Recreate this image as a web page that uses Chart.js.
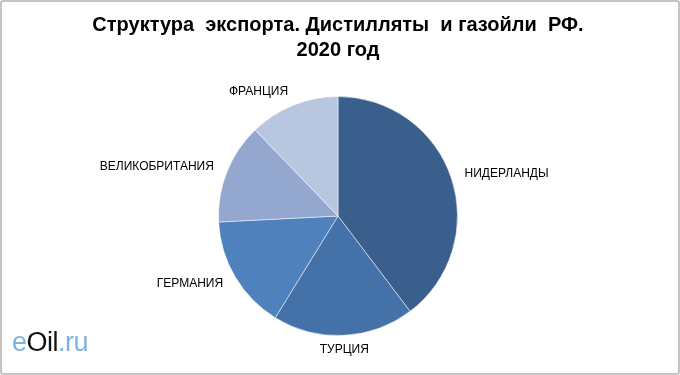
<!DOCTYPE html>
<html lang="ru">
<head>
<meta charset="UTF-8">
<title>Структура экспорта. Дистилляты и газойли РФ. 2020 год</title>
<style>
    html, body { margin: 0; padding: 0; background: #fff; }
    .frame {
        position: relative;
        width: 680px; height: 375px;
        box-sizing: border-box;
        border: 2px solid #c4c4c4;
        border-radius: 3px;
        overflow: hidden;
    }
    .chart-box { position: absolute; left: -2px; top: -2px; width: 680px; height: 375px; }
    .logo {
        position: absolute; left: 10px; top: 325px;
        font-family: "Liberation Sans", Arial, sans-serif;
        font-size: 27px; letter-spacing: -0.5px;
        color: #111;
    }
    .logo .lt { color: #7fb3de; }
</style>
</head>
<body>
<div class="frame">
    <div class="chart-box"><canvas id="exportChart" width="680" height="375"></canvas></div>
    <div class="logo"><span class="lt">e</span>Oil<span class="lt">.ru</span></div>
</div>

<script src="https://cdn.jsdelivr.net/npm/chart.js"></script>
<script>
    // data (share of export, %)
    const countries = ['НИДЕРЛАНДЫ', 'ТУРЦИЯ', 'ГЕРМАНИЯ', 'ВЕЛИКОБРИТАНИЯ', 'ФРАНЦИЯ'];
    const shares = [39.7, 19.1, 15.4, 13.6, 12.2];
    const sliceColors = ['#3B5F8C', '#4472A8', '#4F81BD', '#94A7CF', '#B9C6DF'];
    const titleLines = ['Структура  экспорта. Дистилляты  и газойли  РФ.', '2020 год'];

    // category names drawn outside the pie, around each slice's middle
    const outsideLabels = {
        id: 'outsideLabels',
        afterDatasetsDraw(chart) {
            const ctx = chart.ctx;
            const arcs = chart.getDatasetMeta(0).data;
            ctx.save();
            ctx.font = '12px "Liberation Sans", Arial, sans-serif';
            ctx.fillStyle = '#000';
            ctx.textBaseline = 'middle';
            arcs.forEach((arc, i) => {
                const mid = (arc.startAngle + arc.endAngle) / 2;
                const r = arc.outerRadius + 14;
                const dx = Math.cos(mid), dy = Math.sin(mid);
                const x = arc.x + dx * r;
                const y = arc.y + dy * r;
                if (dx > 0.3) ctx.textAlign = 'left';
                else if (dx < -0.3) ctx.textAlign = 'right';
                else ctx.textAlign = 'center';
                ctx.fillText(countries[i], x, y);
            });
            ctx.restore();
        }
    };

    const ctx = document.getElementById('exportChart').getContext('2d');
    new Chart(ctx, {
        type: 'pie',
        data: {
            labels: countries,
            datasets: [{
                data: shares,
                backgroundColor: sliceColors,
                borderColor: 'rgba(255,255,255,0.5)',
                borderWidth: 1
            }]
        },
        options: {
            responsive: false,
            animation: false,
            layout: { padding: { top: 0, bottom: 39, left: 0, right: 4 } },
            plugins: {
                legend: { display: false },
                tooltip: { enabled: false },
                title: {
                    display: true,
                    text: titleLines,
                    color: '#000',
                    font: { family: '"Liberation Sans", Arial, sans-serif', size: 20, weight: 'bold', lineHeight: 1.25 },
                    padding: { top: 13, bottom: 33 }
                }
            }
        },
        plugins: [outsideLabels]
    });
</script>
</body>
</html>
